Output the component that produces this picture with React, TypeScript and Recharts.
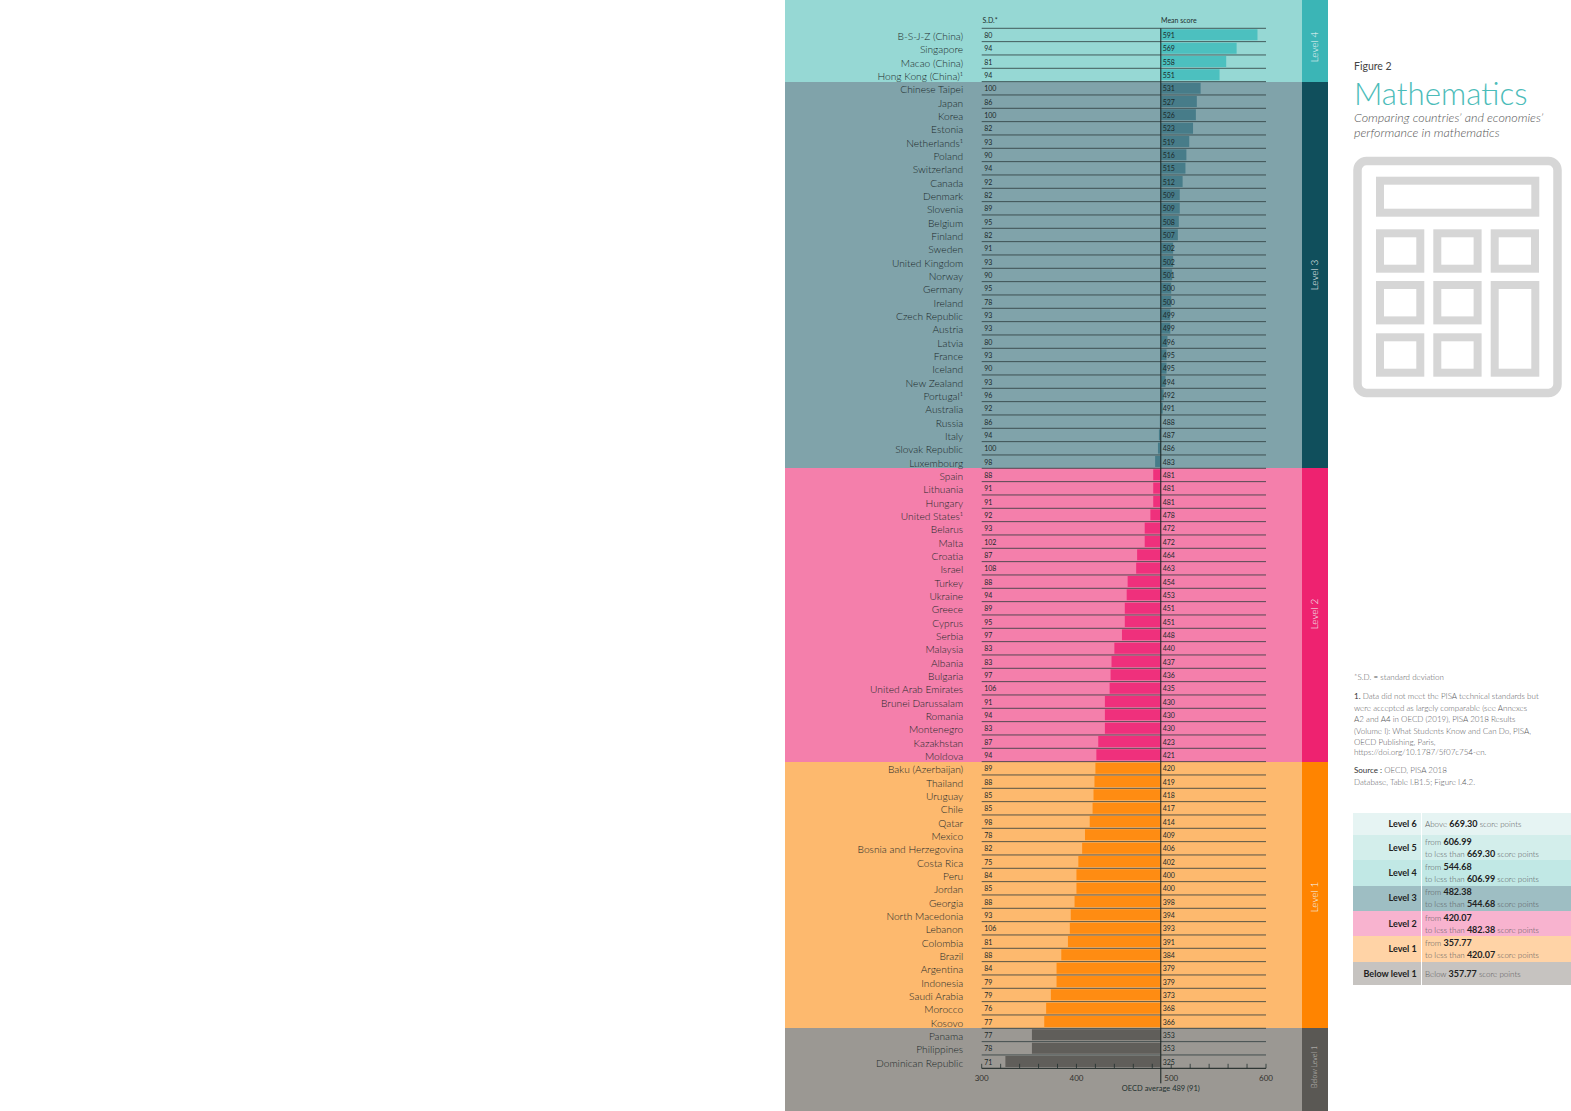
import { BarChart, Bar, XAxis, YAxis, CartesianGrid, ReferenceLine, Cell } from "recharts";

const countries = [
  "B-S-J-Z (China)", "Singapore", "Macao (China)", "Hong Kong (China)¹",
  "Chinese Taipei", "Japan", "Korea", "Estonia", "Netherlands¹", "Poland", "Switzerland", "Canada", "Denmark",
  "Slovenia", "Belgium", "Finland", "Sweden", "United Kingdom", "Norway", "Germany", "Ireland", "Czech Republic",
  "Austria", "Latvia", "France", "Iceland", "New Zealand", "Portugal¹", "Australia", "Russia", "Italy",
  "Slovak Republic", "Luxembourg",
  "Spain", "Lithuania", "Hungary", "United States¹", "Belarus", "Malta", "Croatia", "Israel", "Turkey", "Ukraine",
  "Greece", "Cyprus", "Serbia", "Malaysia", "Albania", "Bulgaria", "United Arab Emirates", "Brunei Darussalam",
  "Romania", "Montenegro", "Kazakhstan", "Moldova",
  "Baku (Azerbaijan)", "Thailand", "Uruguay", "Chile", "Qatar", "Mexico", "Bosnia and Herzegovina", "Costa Rica",
  "Peru", "Jordan", "Georgia", "North Macedonia", "Lebanon", "Colombia", "Brazil", "Argentina", "Indonesia",
  "Saudi Arabia", "Morocco", "Kosovo",
  "Panama", "Philippines", "Dominican Republic",
];

const meanScores = [
  591, 569, 558, 551,
  531, 527, 526, 523, 519, 516, 515, 512, 509, 509, 508, 507, 502, 502, 501, 500, 500, 499, 499, 496, 495, 495, 494,
  492, 491, 488, 487, 486, 483,
  481, 481, 481, 478, 472, 472, 464, 463, 454, 453, 451, 451, 448, 440, 437, 436, 435, 430, 430, 430, 423, 421,
  420, 419, 418, 417, 414, 409, 406, 402, 400, 400, 398, 394, 393, 391, 384, 379, 379, 373, 368, 366,
  353, 353, 325,
];

const stdDevs = [
  80, 94, 81, 94,
  100, 86, 100, 82, 93, 90, 94, 92, 82, 89, 95, 82, 91, 93, 90, 95, 78, 93, 93, 80, 93, 90, 93, 96, 92, 86, 94, 100, 98,
  88, 91, 91, 92, 93, 102, 87, 108, 88, 94, 89, 95, 97, 83, 83, 97, 106, 91, 94, 83, 87, 94,
  89, 88, 85, 85, 98, 78, 82, 75, 84, 85, 88, 93, 106, 81, 88, 84, 79, 79, 76, 77,
  77, 78, 71,
];

const OECD_MEAN = 489;
const xTicks = [300, 320, 340, 360, 380, 400, 420, 440, 460, 480, 500, 520, 540, 560, 580, 600];

// one entry per proficiency band, top to bottom
const bandLabels = ["Level 4", "Level 3", "Level 2", "Level 1", "Below Level 1"];
const bandMinScores = [544.68, 482.38, 420.07, 357.77, 0];
const bandBarColors = ["#4cc0bf", "#477c89", "#ef307c", "#ff8c12", "#605e5a"];
const bandBgColors = ["#96d8d4", "#80a3aa", "#f47fab", "#fdb96e", "#9b9893"];
const bandTabColors = ["#3bb5b6", "#104f5c", "#ee2270", "#ff8400", "#5a5854"];
const bandTabLabelY = [47, 275, 614, 897, 1067];

const legendRows = [
  { level: "Level 6", color: "#e6f4f3", top: 812.7, bottom: 835, from: "", to: "669.30", kind: "above" },
  { level: "Level 5", color: "#d3eeeb", top: 835, bottom: 860, from: "606.99", to: "669.30", kind: "range" },
  { level: "Level 4", color: "#c1e8e5", top: 860, bottom: 885.7, from: "544.68", to: "606.99", kind: "range" },
  { level: "Level 3", color: "#9ebec3", top: 885.7, bottom: 911, from: "482.38", to: "544.68", kind: "range" },
  { level: "Level 2", color: "#f8b3cf", top: 911, bottom: 936, from: "420.07", to: "482.38", kind: "range" },
  { level: "Level 1", color: "#ffd3a6", top: 936, bottom: 962, from: "357.77", to: "420.07", kind: "range" },
  { level: "Below level 1", color: "#c6c3c0", top: 962, bottom: 985, from: "", to: "357.77", kind: "below" },
];

const noteLines = [
  "were accepted as largely comparable (see Annexes",
  "A2 and A4 in OECD (2019), PISA 2018 Results",
  "(Volume I): What Students Know and Can Do, PISA,",
  "OECD Publishing, Paris,",
  "https://doi.org/10.1787/5f07c754-en.",
];
const noteLineY = [707.7, 719, 730.7, 741.7, 751.7];

const FONT = "Lato, 'Open Sans', sans-serif";
const PLOT_TOP = 28.3;
const PLOT_BOTTOM = 1068.3;
const PLOT_LEFT = 981.7;
const PLOT_RIGHT = 1266;
const ROW_H = (PLOT_BOTTOM - PLOT_TOP) / countries.length;

const bandOf = (score: number) => bandMinScores.findIndex((m) => score >= m);

const rows = countries.map((name, i) => ({
  name,
  mean: meanScores[i],
  sd: stdDevs[i],
  band: bandOf(meanScores[i]),
}));

// edges of the coloured bands follow the row grid
const bandEdges = bandLabels.map((_, b) => {
  const first = rows.findIndex((r) => r.band === b);
  const count = rows.filter((r) => r.band === b).length;
  return {
    top: b === 0 ? 0 : PLOT_TOP + first * ROW_H,
    bottom: b === bandLabels.length - 1 ? 1111 : PLOT_TOP + (first + count) * ROW_H,
  };
});

function RowTick({ x, y, index }: any) {
  const row = rows[index];
  if (!row) return null;
  return (
    <g fontFamily={FONT} fill="#1c2a2a">
      <text x={x - 18.5} y={y + 2.5} textAnchor="end" dominantBaseline="middle" fontSize={10.2} fontWeight={300}>
        {row.name}
      </text>
      <text x={x + 2.5} y={y + 1.2} dominantBaseline="middle" fontSize={7}>
        {row.sd}
      </text>
      <text x={x + 181} y={y + 1.2} dominantBaseline="middle" fontSize={7}>
        {row.mean}
      </text>
    </g>
  );
}

function ScoreTick({ x, y, payload }: any) {
  const isMajor = payload.value % 100 === 0;
  return (
    <g>
      <line x1={x} x2={x} y1={y} y2={y - 4.5} stroke="#22302f" strokeWidth={0.8} />
      {isMajor && (
        <text x={x} y={y + 11} textAnchor="middle" dominantBaseline="middle" fontSize={8} fontFamily={FONT} fill="#33312e">
          {payload.value}
        </text>
      )}
    </g>
  );
}

function OecdLine({ x1, x2, y1, y2 }: any) {
  const top = Math.min(y1, y2);
  const bottom = Math.max(y1, y2);
  return (
    <g>
      <line x1={x1} x2={x2} y1={top} y2={bottom + 15} stroke="#15201f" strokeWidth={1} />
      <text x={x1} y={bottom + 21} textAnchor="middle" dominantBaseline="middle" fontSize={7.5} fontFamily={FONT} fill="#22302f">
        OECD average 489 (91)
      </text>
    </g>
  );
}

function Txt({ x, y, size = 8, color = "#58585b", weight = 300, italic, children }: any) {
  return (
    <div
      style={{
        position: "absolute",
        left: x,
        top: y - 10,
        height: 20,
        lineHeight: "20px",
        fontSize: size,
        color,
        fontWeight: weight,
        fontStyle: italic ? "italic" : "normal",
        whiteSpace: "nowrap",
      }}
    >
      {children}
    </div>
  );
}

const B = ({ children }: any) => <b style={{ fontWeight: 700, color: "#222", fontSize: 9 }}>{children}</b>;

function CalculatorIcon() {
  const s = "#d6d6d6";
  const cols = [1380, 1437.3, 1494.7];
  const keyRows = [233.3, 285, 337.3];
  return (
    <svg style={{ position: "absolute", left: 0, top: 0 }} width={1571} height={1111} fill="none" stroke={s} strokeWidth={8}>
      <rect x={1357.5} y={161} width={200} height={232} rx={9} strokeWidth={8.5} />
      <rect x={1380} y={180.7} width={155.3} height={32} />
      {keyRows.map((ky, r) =>
        cols.map((kx, c) =>
          c === 2 && r === 2 ? null : c === 2 && r === 1 ? (
            <rect key={`${r}-${c}`} x={kx} y={ky} width={40.6} height={87.7} />
          ) : (
            <rect key={`${r}-${c}`} x={kx} y={ky} width={40.3} height={35.4} />
          ),
        ),
      )}
    </svg>
  );
}

export default function App() {
  return (
    <div style={{ position: "absolute", left: 0, top: 0, width: 1571, height: 1111, overflow: "hidden", background: "#fff", fontFamily: FONT }}>
      {bandEdges.map((e, b) => (
        <div key={b}>
          <div style={{ position: "absolute", left: 785, width: 516.7, top: e.top, height: e.bottom - e.top, background: bandBgColors[b] }} />
          <div style={{ position: "absolute", left: 1301.7, width: 26.6, top: e.top, height: e.bottom - e.top, background: bandTabColors[b] }} />
          <div
            style={{
              position: "absolute",
              left: 1314,
              top: bandTabLabelY[b],
              color: b === 4 ? "#c9c7c3" : "#f2f7f7",
              fontSize: b === 4 ? 7 : 10,
              fontWeight: 300,
              whiteSpace: "nowrap",
              transform: "translate(-50%, -50%) rotate(-90deg)",
            }}
          >
            {bandLabels[b]}
          </div>
        </div>
      ))}

      <div style={{ position: "absolute", left: 0, top: 0 }}>
        <BarChart
          width={1571}
          height={1111}
          layout="vertical"
          data={rows}
          barSize={11}
          margin={{ top: PLOT_TOP, bottom: 0, left: 785, right: 1571 - PLOT_RIGHT }}
        >
          <CartesianGrid
            vertical={false}
            stroke="#2d3b3c"
            strokeWidth={0.8}
            horizontalCoordinatesGenerator={({ offset }: any) =>
              rows.map((_, i) => offset.top + (i * offset.height) / rows.length)
            }
          />
          <XAxis
            type="number"
            domain={[300, 600]}
            ticks={xTicks}
            interval={0}
            tickLine={false}
            tickSize={0}
            tickMargin={0}
            axisLine={{ stroke: "#15201f", strokeWidth: 1 }}
            tick={<ScoreTick />}
            height={1111 - PLOT_BOTTOM}
          />
          <YAxis
            type="category"
            dataKey="name"
            width={PLOT_LEFT - 785}
            interval={0}
            axisLine={false}
            tickLine={false}
            tickSize={0}
            tickMargin={0}
            tick={<RowTick />}
          />
          <Bar dataKey={(d: any) => [OECD_MEAN, d.mean]} isAnimationActive={false}>
            {rows.map((r, i) => (
              <Cell key={i} fill={bandBarColors[r.band]} />
            ))}
          </Bar>
          <ReferenceLine x={OECD_MEAN} shape={<OecdLine />} />
        </BarChart>
      </div>

      <Txt x={982.5} y={19.5} size={7} color="#22302f" weight={400}>S.D.*</Txt>
      <Txt x={1161} y={19.5} size={7} color="#22302f" weight={400}>Mean score</Txt>

      <Txt x={1354} y={66} size={10.5} color="#444" weight={400}>Figure 2</Txt>
      <Txt x={1354} y={93} size={31.3} color="#4cbcb9" weight={300}>Mathematics</Txt>
      <Txt x={1354} y={118} size={12.5} color="#555" italic>Comparing countries’ and economies’</Txt>
      <Txt x={1354} y={133} size={12.5} color="#555" italic>performance in mathematics</Txt>
      <CalculatorIcon />

      <Txt x={1354} y={677}>*S.D. = standard deviation</Txt>
      <Txt x={1354} y={696}><b style={{ color: "#333" }}>1.</b> Data did not meet the PISA technical standards but</Txt>
      {noteLines.map((l, i) => (
        <Txt key={i} x={1354} y={noteLineY[i]}>{l}</Txt>
      ))}
      <Txt x={1354} y={770}><b style={{ color: "#333" }}>Source :</b> OECD, PISA 2018</Txt>
      <Txt x={1354} y={781.7}>Database, Table I.B1.5; Figure I.4.2.</Txt>

      {legendRows.map((r) => {
        const mid = (r.top + r.bottom) / 2;
        return (
          <div key={r.level}>
            <div style={{ position: "absolute", left: 1353.3, right: 0, top: r.top, height: r.bottom - r.top, background: r.color }} />
            <div
              style={{
                position: "absolute",
                right: 1571 - 1416.7,
                top: mid - 10,
                lineHeight: "20px",
                fontSize: 9,
                fontWeight: 700,
                color: "#222",
                whiteSpace: "nowrap",
              }}
            >
              {r.level}
            </div>
            {r.kind === "range" ? (
              <>
                <Txt x={1425} y={mid - 6}>from <B>{r.from}</B></Txt>
                <Txt x={1425} y={mid + 6}>to less than <B>{r.to}</B> score points</Txt>
              </>
            ) : (
              <Txt x={1425} y={mid}>{r.kind === "above" ? "Above" : "Below"} <B>{r.to}</B> score points</Txt>
            )}
          </div>
        );
      })}
      <div style={{ position: "absolute", left: 1421, width: 1, top: 812.7, height: 172.3, background: "#fff" }} />
    </div>
  );
}
